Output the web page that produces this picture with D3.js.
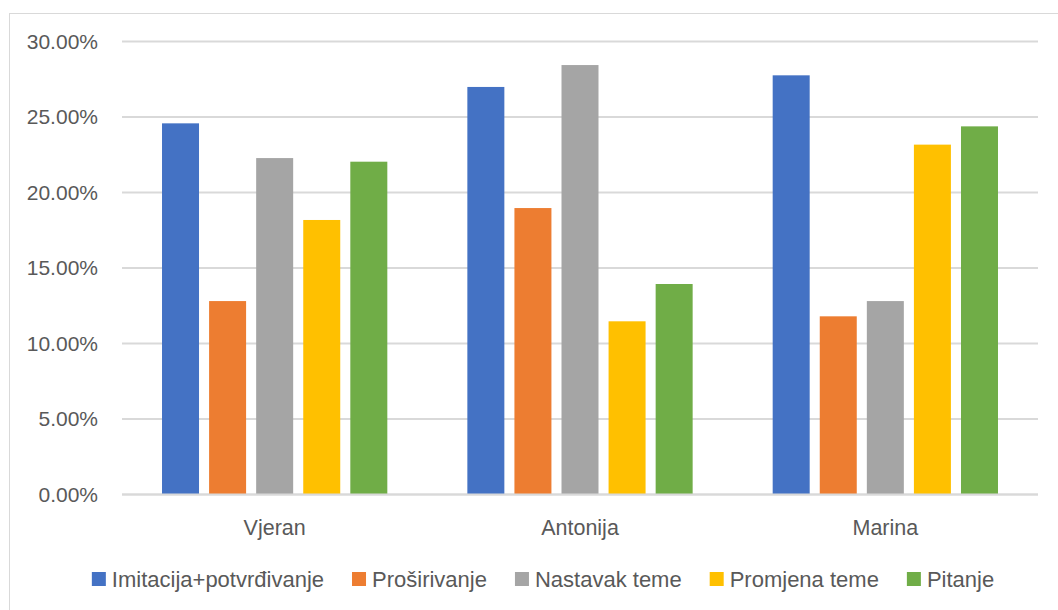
<!DOCTYPE html>
<html>
<head>
<meta charset="utf-8">
<script src="https://cdn.jsdelivr.net/npm/d3@7/dist/d3.min.js"></script>
<style>
  html, body { margin: 0; padding: 0; background: #fff; }
  svg { display: block; }
  text { font-family: "Liberation Sans", Arial, sans-serif; fill: #595959; }
</style>
</head>
<body>
<svg id="chart" width="1058" height="610"></svg>
<script>
const categories = ["Vjeran", "Antonija", "Marina"];
const seriesNames = ["Imitacija+potvrđivanje", "Proširivanje", "Nastavak teme", "Promjena teme", "Pitanje"];
const seriesColors = ["#4472C4", "#ED7D31", "#A5A5A5", "#FFC000", "#70AD47"];
const imitacija = [0.2458, 0.2699, 0.2776];
const prosirivanje = [0.1281, 0.1897, 0.1180];
const nastavak = [0.2228, 0.2844, 0.1281];
const promjena = [0.1818, 0.1147, 0.2317];
const pitanje = [0.2204, 0.1394, 0.2438];
const yTicks = [0, 0.05, 0.10, 0.15, 0.20, 0.25, 0.30];

const seriesValues = [imitacija, prosirivanje, nastavak, promjena, pitanje];

const svg = d3.select("#chart");

// outer chart border
svg.append("rect")
  .attr("x", 9.5).attr("y", 13.5)
  .attr("width", 1080).attr("height", 620)
  .attr("fill", "none").attr("stroke", "#D9D9D9").attr("stroke-width", 1);

const plotLeft = 122, plotRight = 1038, plotTop = 41.5, plotBottom = 494.5;

const y = d3.scaleLinear().domain([0, 0.30]).range([plotBottom, plotTop]);
const x0 = d3.scaleBand().domain(categories).range([plotLeft, plotRight]).paddingInner(0).paddingOuter(0);
const bw = x0.bandwidth();
const groupW = 225.3;
const x1 = d3.scaleBand().domain(seriesNames)
  .range([(bw - groupW) / 2, (bw + groupW) / 2])
  .paddingInner(0.214).paddingOuter(0);

// gridlines
svg.append("g").selectAll("line").data(yTicks).join("line")
  .attr("x1", plotLeft).attr("x2", plotRight)
  .attr("y1", d => y(d)).attr("y2", d => y(d))
  .attr("stroke", "#D9D9D9").attr("stroke-width", 1.8);

// y axis labels
const yAxis = d3.axisLeft(y).tickValues(yTicks).tickFormat(d3.format(".2%")).tickSize(0).tickPadding(0);
const yg = svg.append("g").attr("transform", `translate(98,0)`).call(yAxis);
yg.select(".domain").remove();
yg.selectAll("text").attr("font-size", "21px").attr("fill", "#595959")
  .style("font-family", '"Liberation Sans", Arial, sans-serif');

// bars
const rows = [];
categories.forEach((c, ci) => {
  seriesNames.forEach((s, si) => {
    rows.push({ cat: c, series: s, color: seriesColors[si], value: seriesValues[si][ci] });
  });
});

svg.append("g").selectAll("rect").data(rows).join("rect")
  .attr("x", d => x0(d.cat) + x1(d.series))
  .attr("width", x1.bandwidth())
  .attr("y", d => y(d.value))
  .attr("height", d => y(0) - y(d.value))
  .attr("fill", d => d.color);

// x axis baseline over bars
svg.append("line")
  .attr("x1", plotLeft).attr("x2", plotRight)
  .attr("y1", y(0)).attr("y2", y(0))
  .attr("stroke", "#D9D9D9").attr("stroke-width", 1.8);

// category labels
const xAxis = d3.axisBottom(x0).tickSize(0).tickPadding(0);
const xg = svg.append("g").attr("transform", `translate(0,527)`).call(xAxis);
xg.select(".domain").remove();
xg.selectAll("text").attr("font-size", "21.5px").attr("dy", "0.35em").attr("y", 0).attr("fill", "#595959")
  .style("font-family", '"Liberation Sans", Arial, sans-serif');

// legend
const legend = svg.append("g");
const legendY = 579;
const items = legend.selectAll("g").data(seriesNames).join("g");
items.append("rect").attr("width", 14).attr("height", 14).attr("y", legendY - 7)
  .attr("fill", (d, i) => seriesColors[i]);
items.append("text").attr("x", 20).attr("y", legendY).attr("dy", "0.35em")
  .attr("font-size", "22px").text(d => d);
let xpos = 0;
const positions = [];
items.each(function () {
  const w = d3.select(this).select("text").node().getComputedTextLength();
  positions.push(xpos);
  xpos += 20 + w + 28;
});
const totalW = xpos - 28;
const startX = 543 - totalW / 2;
items.attr("transform", (d, i) => `translate(${startX + positions[i]},0)`);
</script>
</body>
</html>
